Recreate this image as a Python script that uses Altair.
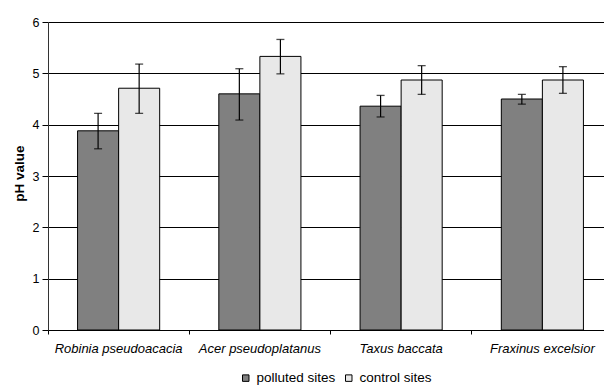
import altair as alt
import pandas as pd

species = ["Robinia pseudoacacia", "Acer pseudoplatanus", "Taxus baccata", "Fraxinus excelsior"]
polluted_mean = [3.88, 4.60, 4.36, 4.50]
polluted_low = [3.53, 4.09, 4.15, 4.40]
polluted_high = [4.22, 5.09, 4.57, 4.59]
control_mean = [4.71, 5.33, 4.87, 4.87]
control_low = [4.22, 4.99, 4.59, 4.61]
control_high = [5.18, 5.66, 5.15, 5.13]
series = ["polluted sites", "control sites"]

rows = []
for i, s in enumerate(species):
    rows.append({"species": s, "site": series[0], "ph": polluted_mean[i], "lo": polluted_low[i], "hi": polluted_high[i]})
    rows.append({"species": s, "site": series[1], "ph": control_mean[i], "lo": control_low[i], "hi": control_high[i]})
df = pd.DataFrame(rows)

FONT = "Liberation Sans"

x = alt.X("species:N", sort=species, title=None,
          scale=alt.Scale(paddingInner=0, paddingOuter=0, range=[0, 565]),
          axis=alt.Axis(bandPosition=0, labelAngle=0,
                        labelFontStyle="italic", labelFontSize=13, labelFont=FONT,
                        labelColor="#000", tickColor="#000", domainColor="#000",
                        tickSize=4, labelPadding=8, grid=False))
xo = alt.XOffset("site:N", sort=series, scale=alt.Scale(paddingOuter=0.72, paddingInner=0))

base = alt.Chart(df)

bars = base.mark_bar(stroke="#000", strokeWidth=1).encode(
    x=x,
    xOffset=xo,
    y=alt.Y("ph:Q", title="pH value",
            scale=alt.Scale(domain=[0, 6], nice=False),
            axis=alt.Axis(values=[0, 1, 2, 3, 4, 5, 6], format="d", grid=True,
                          gridColor="#000", gridWidth=1, gridOpacity=1,
                          domainColor="#333", tickColor="#000", tickSize=6,
                          labelFontSize=12.5, labelFont=FONT, labelColor="#000", labelPadding=3,
                          titleFont=FONT, titleFontSize=13.5, titleFontWeight="bold",
                          titleColor="#000", titleAngle=270, titleX=-29, titleY=151,
                          titleAlign="center", titleBaseline="middle")),
    fill=alt.Fill("site:N", sort=series,
                  scale=alt.Scale(domain=series, range=["#808080", "#e8e8e8"]),
                  legend=alt.Legend(title=None, orient="none", legendX=191, legendY=349,
                                    direction="horizontal", symbolType="square",
                                    symbolSize=42, symbolStrokeColor="#000",
                                    symbolStrokeWidth=1, labelFont=FONT, labelFontSize=13.5,
                                    labelColor="#000", columnPadding=6, labelOffset=4)),
)

rules = base.mark_rule(color="#000", strokeWidth=1.2).encode(
    x=x, xOffset=xo, y="lo:Q", y2="hi:Q")
caps_hi = base.mark_tick(color="#000", size=8, thickness=1.3).encode(
    x=x, xOffset=xo, y="hi:Q")
caps_lo = base.mark_tick(color="#000", size=8, thickness=1.3).encode(
    x=x, xOffset=xo, y="lo:Q")

chart = alt.layer(bars, rules, caps_hi, caps_lo).properties(
    width=556, height=308,
    autosize=alt.AutoSizeParams(type="none"),
    padding={"left": 40, "top": 14, "right": 0, "bottom": 55},
).configure_view(stroke=None).configure(background="white")

chart.save("out.html", embed_options={"renderer": "svg", "actions": False})
